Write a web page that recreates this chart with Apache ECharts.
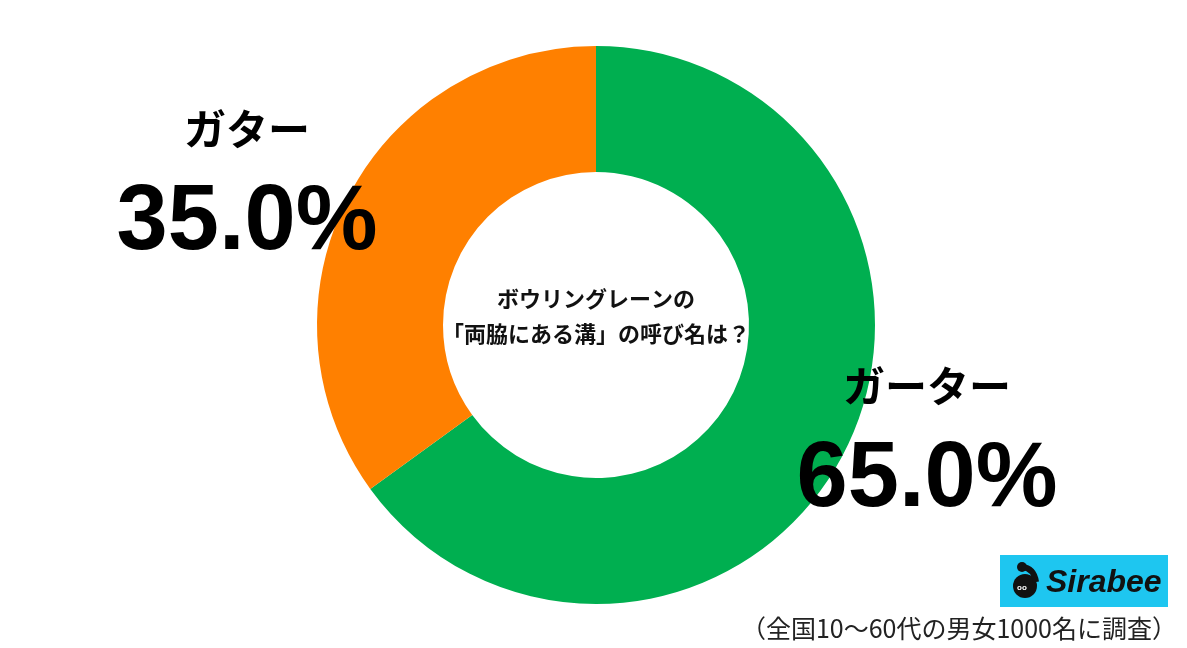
<!DOCTYPE html>
<html>
<head>
<meta charset="utf-8">
<script src="https://cdn.jsdelivr.net/npm/echarts@6/dist/echarts.min.js"></script>
<style>
html,body{margin:0;padding:0;background:#fff;}
#c{width:1187px;height:648px;}
</style>
</head>
<body>
<div id="c"></div>
<script>
const categories = ['ガーター', 'ガター'];
const values = [65.0, 35.0];
const colors = ['#00AF50', '#FF8000'];
const centerLines = ['ボウリングレーンの', '「両脇にある溝」の呼び名は？'];
const footnote = '（全国10～60代の男女1000名に調査）';
const brand = 'Sirabee';

const chart = echarts.init(document.getElementById('c'), null, {renderer: 'canvas'});
const jp = '"Noto Sans CJK JP", "Noto Sans", sans-serif';
const num = '"Liberation Sans", Arial, sans-serif';

const labelPos = [
  {x: 927, y: 441},
  {x: 247, y: 184}
];

chart.setOption({
  backgroundColor: '#ffffff',
  animation: false,
  series: [{
    type: 'pie',
    center: [596, 325],
    radius: [153, 279],
    startAngle: 90,
    clockwise: true,
    silent: true,
    data: categories.map((c, i) => ({name: c, value: values[i], itemStyle: {color: colors[i]}})),
    itemStyle: {borderWidth: 0},
    label: {
      show: true,
      position: 'outside',
      align: 'center',
      formatter: p => '{n|' + p.name + '}\n{p|' + p.value.toFixed(1) + '%}',
      rich: {
        n: {fontFamily: jp, fontWeight: 'bold', fontSize: 42, lineHeight: 80, color: '#000', align: 'center'},
        p: {fontFamily: num, fontWeight: 'bold', fontSize: 92, lineHeight: 110, color: '#000', align: 'center'}
      }
    },
    labelLine: {show: false},
    labelLayout: p => ({x: labelPos[p.dataIndex].x, y: labelPos[p.dataIndex].y, align: 'center', verticalAlign: 'middle'})
  }],
  graphic: [
    {type: 'text', x: 596, y: 299, style: {text: centerLines[0], font: 'bold 22px ' + jp, fill: '#111', align: 'center', verticalAlign: 'middle'}},
    {type: 'text', x: 596, y: 334, style: {text: centerLines[1], font: 'bold 22px ' + jp, fill: '#111', align: 'center', verticalAlign: 'middle'}},
    {type: 'rect', shape: {x: 1000, y: 555, width: 168, height: 52}, style: {fill: '#1EC6F0'}},
    {type: 'circle', shape: {cx: 1025, cy: 586, r: 12}, style: {fill: '#111'}},
    {type: 'circle', shape: {cx: 1022, cy: 567, r: 5}, style: {fill: '#111'}},
    {type: 'bezierCurve', shape: {x1: 1022, y1: 567, x2: 1036, y2: 582, cpx1: 1034, cpy1: 568}, style: {stroke: '#111', lineWidth: 6, fill: null}},
    {type: 'text', x: 1022, y: 588, style: {text: 'oo', font: 'bold 8px ' + num, fill: '#fff', align: 'center', verticalAlign: 'middle'}},
    {type: 'text', x: 1046, y: 583, style: {text: brand, font: 'italic bold 32px ' + num, fill: '#111', align: 'left', verticalAlign: 'middle'}},
    {type: 'text', x: 1177, y: 628, style: {text: footnote, font: 'normal 25px ' + jp, fill: '#222', align: 'right', verticalAlign: 'middle'}}
  ]
});
</script>
</body>
</html>
